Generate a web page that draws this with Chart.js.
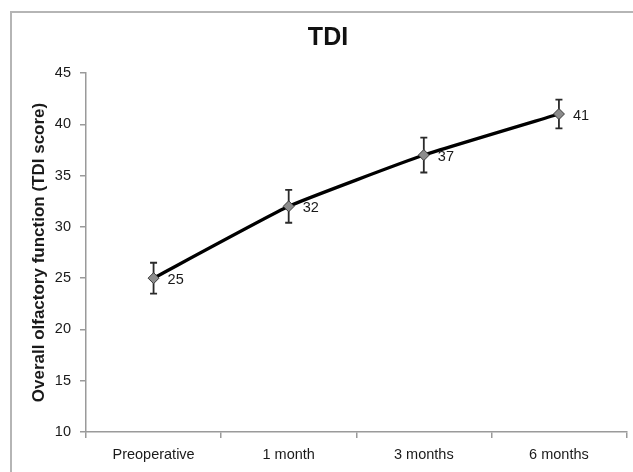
<!DOCTYPE html>
<html>
<head>
<meta charset="utf-8">
<title>TDI</title>
<script src="https://cdn.jsdelivr.net/npm/chart.js@4.4.1/dist/chart.umd.min.js"></script>
<style>
  html, body { margin: 0; padding: 0; background: #fff; }
  #wrap { width: 633px; height: 472px; }
</style>
</head>
<body>
<div id="wrap"><canvas id="myChart" width="633" height="472"></canvas></div>
<script>
// setup
const timepoints = ['Preoperative', '1 month', '3 months', '6 months'];
const tdiScores = [25, 32, 37, 41];
const errUp = [1.5, 1.6, 1.7, 1.4];
const errDown = [1.5, 1.6, 1.7, 1.4];
const yMin = 10;
const yMax = 45;
const yStep = 5;

const FONT = "'Liberation Sans', Arial, Helvetica, sans-serif";
const TEXT = '#1a1a1a';
const AXIS = '#9a9a9a';

// grey frame around the whole figure (runs off the right and bottom edge)
const framePlugin = {
    id: 'frame',
    beforeDraw(chart) {
        const ctx = chart.ctx;
        ctx.save();
        ctx.strokeStyle = '#b5b5b5';
        ctx.lineWidth = 2;
        ctx.strokeRect(11, 12, 700, 600);
        ctx.restore();
    }
};

// vertical error bars with small caps, drawn under the markers
const errorBarPlugin = {
    id: 'errorBars',
    beforeDatasetsDraw(chart) {
        const ctx = chart.ctx;
        const yScale = chart.scales.y;
        const meta = chart.getDatasetMeta(0);
        ctx.save();
        ctx.strokeStyle = '#2a2a2a';
        ctx.lineWidth = 1.8;
        meta.data.forEach((pt, i) => {
            const v = tdiScores[i];
            const yTop = yScale.getPixelForValue(v + errUp[i]);
            const yBot = yScale.getPixelForValue(v - errDown[i]);
            const x = pt.x;
            ctx.beginPath();
            ctx.moveTo(x, yTop);
            ctx.lineTo(x, yBot);
            ctx.moveTo(x - 3.5, yTop);
            ctx.lineTo(x + 3.5, yTop);
            ctx.moveTo(x - 3.5, yBot);
            ctx.lineTo(x + 3.5, yBot);
            ctx.stroke();
        });
        ctx.restore();
    }
};

// value next to each point
const valueLabelPlugin = {
    id: 'valueLabels',
    afterDatasetsDraw(chart) {
        const ctx = chart.ctx;
        const meta = chart.getDatasetMeta(0);
        ctx.save();
        ctx.fillStyle = TEXT;
        ctx.font = '14.5px ' + FONT;
        ctx.textAlign = 'left';
        ctx.textBaseline = 'middle';
        meta.data.forEach((pt, i) => {
            ctx.fillText(String(tdiScores[i]), pt.x + 14, pt.y + 2);
        });
        ctx.restore();
    }
};

const data = {
    labels: timepoints,
    datasets: [{
        label: 'TDI',
        data: tdiScores,
        borderColor: '#000',
        borderWidth: 3.3,
        tension: 0.12,
        pointStyle: 'rectRot',
        pointRadius: 5.5,
        pointBackgroundColor: '#8c8c8c',
        pointBorderColor: '#3a3a3a',
        pointBorderWidth: 1
    }]
};

// config
const config = {
    type: 'line',
    data,
    plugins: [framePlugin, errorBarPlugin, valueLabelPlugin],
    options: {
        responsive: false,
        animation: false,
        layout: { padding: { left: 23, top: 0, right: 0, bottom: 0 } },
        plugins: {
            legend: { display: false },
            tooltip: { enabled: false },
            title: {
                display: true,
                text: 'TDI',
                color: '#111',
                font: { family: FONT, size: 25, weight: 'bold' },
                padding: { top: 23, bottom: 20 }
            }
        },
        scales: {
            x: {
                type: 'category',
                offset: true,
                grid: {
                    display: true,
                    drawOnChartArea: false,
                    offset: true,
                    tickLength: 6,
                    color: AXIS,
                    lineWidth: 1.5
                },
                border: { color: AXIS, width: 1.5 },
                ticks: {
                    color: TEXT,
                    padding: 8,
                    maxRotation: 0,
                    font: { family: FONT, size: 14.5 }
                },
                afterFit(scale) { scale.height = 40; }
            },
            y: {
                min: yMin,
                max: yMax,
                grid: {
                    display: true,
                    drawOnChartArea: false,
                    tickLength: 6,
                    color: AXIS,
                    lineWidth: 1.5
                },
                border: { color: AXIS, width: 1.5 },
                ticks: {
                    stepSize: yStep,
                    color: TEXT,
                    padding: 9,
                    font: { family: FONT, size: 14.5 }
                },
                title: {
                    display: true,
                    text: 'Overall olfactory function (TDI score)',
                    color: TEXT,
                    font: { family: FONT, size: 17, weight: 'bold' },
                    padding: { top: 6, bottom: 0 }
                },
                afterFit(scale) { scale.width = 63; }
            }
        }
    }
};

// render init block
const myChart = new Chart(document.getElementById('myChart'), config);
</script>
</body>
</html>
